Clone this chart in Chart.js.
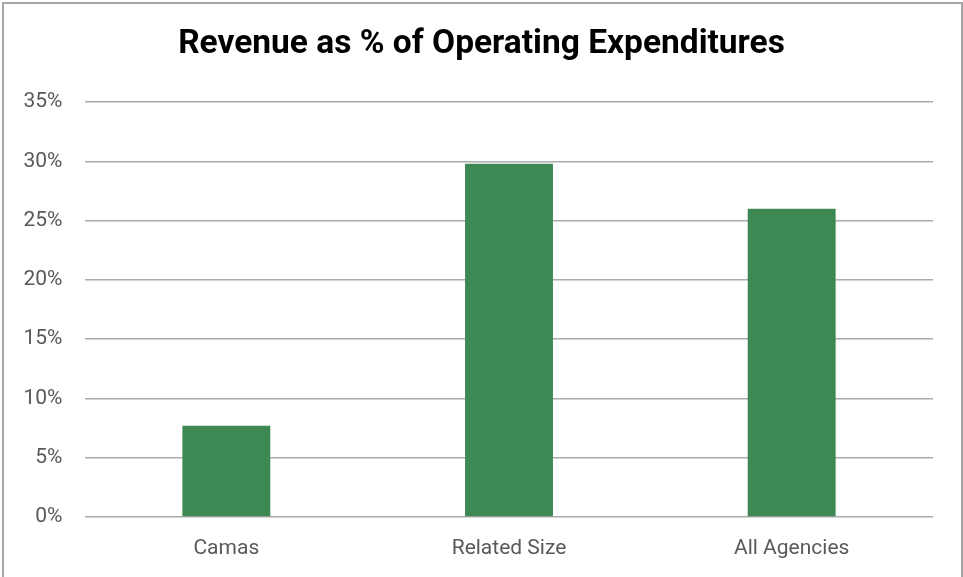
<!DOCTYPE html>
<html>
<head>
<meta charset="utf-8">
<script src="https://cdn.jsdelivr.net/npm/chart.js@4/dist/chart.umd.min.js"></script>
<style>
  html, body { margin: 0; padding: 0; background: #fff; }
  #wrap { position: relative; width: 963px; height: 577px; overflow: hidden; }
  canvas { position: absolute; left: 0; top: 0; }
  #frame { position: absolute; left: 2px; top: 2px; width: 957px; height: 590px; border: 2px solid #a6a6a6; pointer-events: none; }
</style>
</head>
<body>
<div id="wrap">
  <canvas id="c" width="963" height="577"></canvas>
  <div id="frame"></div>
</div>
<script>
const chartTitle = "Revenue as % of Operating Expenditures";
const categories = ["Camas", "Related Size", "All Agencies"];
const revenuePct = [7.7, 29.8, 26.0];
const yTicks = [0, 5, 10, 15, 20, 25, 30, 35];

new Chart(document.getElementById('c'), {
  type: 'bar',
  data: {
    labels: categories,
    datasets: [{
      data: revenuePct,
      backgroundColor: '#3e8853',
      borderWidth: 0,
      categoryPercentage: 1,
      barPercentage: 0.311
    }]
  },
  options: {
    responsive: false,
    animation: false,
    layout: { padding: { left: 0, right: 0, top: 0, bottom: 0 } },
    plugins: {
      legend: { display: false },
      tooltip: { enabled: false },
      title: {
        display: true,
        text: chartTitle,
        color: '#000',
        font: { family: 'Roboto', size: 33.5, weight: 'bold', lineHeight: 1.2 },
        padding: { top: 25, bottom: 37 }
      }
    },
    scales: {
      x: {
        afterFit: (s) => { s.height = 60; },
        grid: { display: false, drawTicks: false },
        border: { display: false },
        ticks: { color: '#595959', font: { family: 'Roboto', size: 21 }, padding: 19.5 }
      },
      y: {
        min: 0,
        max: yTicks[yTicks.length - 1],
        afterBuildTicks: (s) => { s.ticks = yTicks.map(v => ({ value: v })); },
        afterFit: (s) => { s.width = 85; },
        grid: { color: '#ababab', lineWidth: 1.5, drawTicks: false },
        border: { display: false },
        ticks: {
          color: '#595959',
          font: { family: 'Roboto', size: 21 },
          padding: 22.5,
          callback: (v) => v + '%'
        }
      },
      yRight: {
        position: 'right',
        display: true,
        afterFit: (s) => { s.width = 30; },
        grid: { display: false, drawTicks: false },
        border: { display: false },
        ticks: { display: false }
      }
    }
  }
});
</script>
</body>
</html>
